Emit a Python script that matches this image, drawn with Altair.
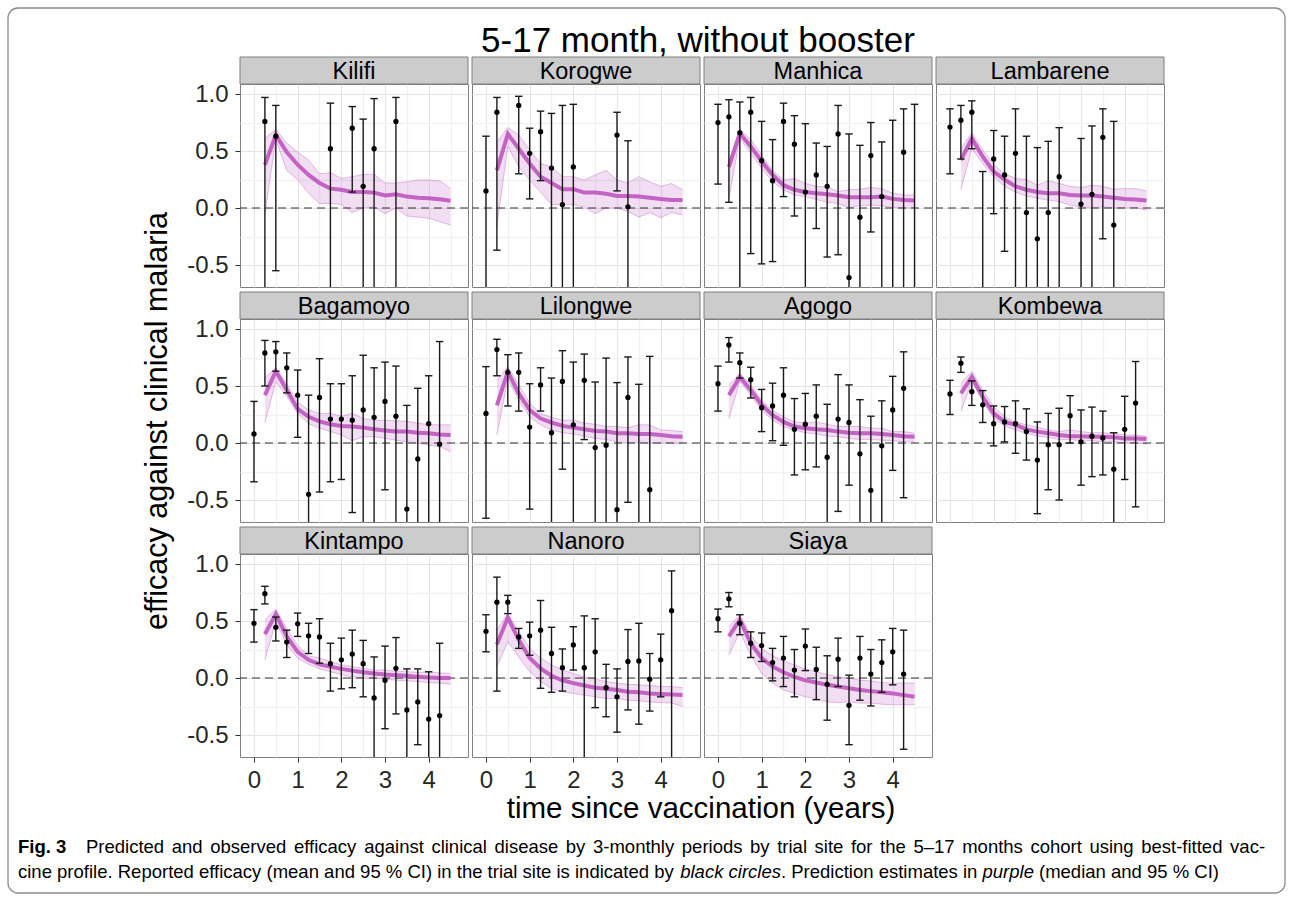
import altair as alt
import pandas as pd

N = None

OBS_TIME = [0.0, 0.25, 0.5, 0.75, 1.0, 1.25, 1.5, 1.75, 2.0, 2.25, 2.5, 2.75,
            3.0, 3.25, 3.5, 3.75, 4.0, 4.25, 4.5]
PRED_TIME = [0.25, 0.5, 0.75, 1.0, 1.25, 1.5, 1.75, 2.0, 2.25, 2.5, 2.75,
             3.0, 3.25, 3.5, 3.75, 4.0, 4.25, 4.5]

SITES = ["Kilifi", "Korogwe", "Manhica", "Lambarene", "Bagamoyo", "Lilongwe",
         "Agogo", "Kombewa", "Kintampo", "Nanoro", "Siaya"]

# observed efficacy (mean, lower, upper) on OBS_TIME; predicted (median, lower, upper) on PRED_TIME
kilifi_mean = [N, 0.76, 0.63, N, N, N, N, 0.52, N, 0.70, 0.19, 0.52, N, 0.76, N, N, N, N, N]
kilifi_lo = [N, -1.0, -0.55, N, N, N, N, -1.0, N, 0.14, -1.0, -1.0, N, -1.0, N, N, N, N, N]
kilifi_hi = [N, 0.97, 0.90, N, N, N, N, 0.92, N, 0.89, 0.78, 0.96, N, 0.97, N, N, N, N, N]
kilifi_med = [0.38, 0.64, 0.49, 0.38, 0.29, 0.22, 0.17, 0.16, 0.14, 0.14, 0.135, 0.11, 0.12, 0.10, 0.09, 0.085, 0.076, 0.064]
kilifi_plo = [-0.05, 0.60, 0.33, 0.25, 0.13, 0.04, 0.04, 0.03, -0.04, 0.0, 0.01, -0.05, 0.0, -0.07, -0.08, -0.09, -0.12, -0.15]
kilifi_phi = [0.61, 0.69, 0.57, 0.49, 0.42, 0.30, 0.31, 0.26, 0.275, 0.295, 0.295, 0.22, 0.22, 0.23, 0.245, 0.245, 0.24, 0.17]

korogwe_mean = [0.15, 0.84, N, 0.90, 0.48, 0.67, 0.35, 0.03, 0.36, N, N, N, 0.64, 0.01, N, N, N, N, N]
korogwe_lo = [-1.0, -0.37, N, 0.30, 0.08, 0.24, -1.0, -1.0, -1.0, N, N, N, 0.15, -1.0, N, N, N, N, N]
korogwe_hi = [0.63, 0.97, N, 0.98, 0.70, 0.85, 0.83, 0.90, 0.91, N, N, N, 0.84, 0.59, N, N, N, N, N]
korogwe_med = [0.33, 0.65, 0.52, 0.39, 0.275, 0.22, 0.165, 0.165, 0.135, 0.135, 0.125, 0.105, 0.105, 0.10, 0.09, 0.08, 0.07, 0.07]
korogwe_plo = [-0.16, 0.54, 0.36, 0.245, 0.14, 0.03, 0.03, 0.03, 0.01, -0.05, 0.0, 0.0, -0.03, -0.08, -0.04, -0.085, -0.04, -0.06]
korogwe_phi = [0.58, 0.705, 0.64, 0.51, 0.39, 0.36, 0.275, 0.275, 0.245, 0.29, 0.33, 0.245, 0.22, 0.275, 0.23, 0.19, 0.215, 0.16]

manhica_mean = [0.75, 0.80, 0.66, 0.84, 0.415, 0.24, 0.76, 0.56, 0.14, 0.29, 0.19, 0.65, -0.61, -0.08, 0.46, 0.10, -0.8, 0.49, -0.8]
manhica_lo = [0.21, 0.05, -1.0, -0.40, -0.49, -0.47, 0.10, -0.07, -1.0, -0.18, -0.43, -0.41, -1.0, -1.0, -0.21, -1.0, -1.0, -1.0, -1.0]
manhica_hi = [0.91, 0.95, 0.93, 0.97, 0.76, 0.60, 0.92, 0.81, 0.74, 0.57, 0.54, 0.90, 0.65, 0.55, 0.75, 0.58, 0.77, 0.87, 0.91]
manhica_med = [0.36, 0.655, 0.54, 0.41, 0.29, 0.20, 0.16, 0.14, 0.13, 0.12, 0.11, 0.095, 0.095, 0.095, 0.10, 0.08, 0.07, 0.065]
manhica_plo = [0.085, 0.61, 0.48, 0.35, 0.23, 0.16, 0.115, 0.10, 0.075, 0.05, 0.04, 0.0, 0.02, 0.025, 0.02, 0.005, 0.0, 0.0]
manhica_phi = [0.41, 0.69, 0.60, 0.465, 0.33, 0.245, 0.26, 0.215, 0.19, 0.185, 0.145, 0.16, 0.165, 0.18, 0.17, 0.13, 0.115, 0.115]

lambarene_mean = [0.71, 0.77, 0.84, -0.8, 0.43, 0.29, 0.48, -0.04, -0.27, -0.04, 0.275, N, 0.035, 0.12, 0.62, -0.15, N, N, N]
lambarene_lo = [0.30, 0.43, 0.52, -1.0, -0.05, -0.38, -1.0, -1.0, -1.0, -1.0, -1.0, N, -1.0, -1.0, -0.27, -1.0, N, N, N]
lambarene_hi = [0.87, 0.90, 0.94, 0.32, 0.68, 0.63, 0.87, 0.63, 0.53, 0.585, 0.705, N, 0.61, 0.72, 0.87, 0.76, N, N, N]
lambarene_med = [0.42, 0.61, 0.45, 0.32, 0.25, 0.19, 0.16, 0.14, 0.13, 0.13, 0.115, 0.11, 0.11, 0.10, 0.09, 0.08, 0.075, 0.065]
lambarene_plo = [0.16, 0.52, 0.39, 0.275, 0.19, 0.14, 0.105, 0.085, 0.07, 0.055, 0.025, 0.01, 0.0, 0.01, 0.0, 0.0, 0.005, -0.02]
lambarene_phi = [0.52, 0.66, 0.51, 0.38, 0.30, 0.26, 0.25, 0.20, 0.24, 0.215, 0.19, 0.18, 0.20, 0.19, 0.165, 0.17, 0.17, 0.15]

bagamoyo_mean = [0.08, 0.79, 0.80, 0.66, 0.42, -0.45, 0.40, 0.21, 0.21, 0.20, 0.29, 0.225, 0.365, 0.235, -0.58, -0.14, 0.17, -0.01, N]
bagamoyo_lo = [-0.34, 0.50, 0.63, 0.44, 0.05, -1.0, -0.43, -0.34, -0.32, -0.61, -1.0, -1.0, -0.41, -1.0, -1.0, -1.0, -1.0, -1.0, N]
bagamoyo_hi = [0.365, 0.90, 0.89, 0.79, 0.64, 0.42, 0.74, 0.52, 0.52, 0.59, 0.77, 0.66, 0.71, 0.675, 0.33, 0.48, 0.59, 0.89, N]
bagamoyo_med = [0.42, 0.63, 0.465, 0.30, 0.23, 0.19, 0.165, 0.15, 0.145, 0.135, 0.12, 0.11, 0.10, 0.10, 0.09, 0.085, 0.075, 0.07]
bagamoyo_plo = [0.18, 0.54, 0.41, 0.26, 0.17, 0.13, 0.10, 0.07, 0.02, 0.055, 0.055, 0.04, 0.025, 0.01, 0.0, -0.02, -0.03, -0.075]
bagamoyo_phi = [0.575, 0.655, 0.52, 0.36, 0.29, 0.26, 0.26, 0.235, 0.26, 0.215, 0.20, 0.20, 0.195, 0.19, 0.175, 0.16, 0.16, 0.16]

lilongwe_mean = [0.26, 0.82, 0.62, 0.62, 0.14, 0.51, 0.09, 0.54, 0.16, 0.55, -0.04, -0.02, -0.585, 0.40, -0.8, -0.41, N, N, N]
lilongwe_lo = [-0.66, 0.59, 0.325, 0.28, -0.58, 0.28, -1.0, -0.23, -1.0, 0.03, -1.0, -1.0, -1.0, -0.52, -1.0, -1.0, N, N, N]
lilongwe_hi = [0.67, 0.91, 0.775, 0.79, 0.52, 0.66, 0.57, 0.81, 0.71, 0.78, 0.535, 0.745, 0.53, 0.755, 0.515, 0.76, N, N, N]
lilongwe_med = [0.33, 0.625, 0.435, 0.29, 0.215, 0.18, 0.15, 0.135, 0.12, 0.105, 0.10, 0.085, 0.085, 0.08, 0.08, 0.07, 0.06, 0.055]
lilongwe_plo = [0.07, 0.56, 0.375, 0.23, 0.16, 0.115, 0.09, 0.08, 0.06, 0.04, 0.03, 0.01, 0.0, 0.01, 0.0, 0.0, 0.0, 0.0]
lilongwe_phi = [0.55, 0.67, 0.51, 0.35, 0.26, 0.225, 0.20, 0.20, 0.175, 0.165, 0.145, 0.145, 0.135, 0.16, 0.16, 0.115, 0.11, 0.10]

agogo_mean = [0.52, 0.86, 0.705, 0.555, 0.31, 0.325, 0.42, 0.12, 0.165, 0.235, -0.125, 0.21, 0.18, -0.095, -0.415, -0.025, 0.29, 0.48, N]
agogo_lo = [0.28, 0.71, 0.57, 0.395, 0.10, 0.02, -0.02, -0.28, -0.235, -0.21, -1.0, -0.60, -0.37, -1.0, -1.0, -1.0, -0.24, -0.48, N]
agogo_hi = [0.675, 0.925, 0.79, 0.665, 0.47, 0.525, 0.66, 0.39, 0.435, 0.51, 0.34, 0.60, 0.51, 0.38, 0.235, 0.37, 0.585, 0.80, N]
agogo_med = [0.42, 0.58, 0.465, 0.335, 0.245, 0.185, 0.145, 0.13, 0.12, 0.115, 0.10, 0.09, 0.085, 0.085, 0.08, 0.07, 0.06, 0.055]
agogo_plo = [0.215, 0.54, 0.42, 0.29, 0.20, 0.145, 0.115, 0.09, 0.08, 0.06, 0.055, 0.04, 0.03, 0.03, 0.025, 0.02, 0.01, 0.01]
agogo_phi = [0.51, 0.61, 0.51, 0.375, 0.285, 0.23, 0.185, 0.175, 0.185, 0.165, 0.145, 0.145, 0.145, 0.13, 0.13, 0.10, 0.10, 0.085]

kombewa_mean = [0.43, 0.70, 0.45, 0.335, 0.17, 0.185, 0.17, 0.10, -0.15, -0.015, -0.015, 0.24, 0.01, 0.06, 0.045, -0.23, 0.12, 0.35, N]
kombewa_lo = [0.25, 0.62, 0.33, 0.18, -0.025, 0.01, -0.09, -0.15, -0.62, -0.41, -0.50, 0.0, -0.37, -0.295, -0.28, -1.0, -0.32, -0.56, N]
kombewa_hi = [0.55, 0.755, 0.545, 0.46, 0.325, 0.32, 0.37, 0.30, 0.185, 0.26, 0.305, 0.415, 0.29, 0.315, 0.28, 0.09, 0.41, 0.715, N]
kombewa_med = [0.435, 0.58, 0.405, 0.26, 0.185, 0.16, 0.12, 0.10, 0.085, 0.07, 0.06, 0.06, 0.055, 0.055, 0.05, 0.04, 0.04, 0.035]
kombewa_plo = [0.275, 0.54, 0.365, 0.215, 0.15, 0.115, 0.085, 0.06, 0.05, 0.03, 0.03, 0.02, 0.02, 0.01, 0.01, 0.0, 0.0, -0.01]
kombewa_phi = [0.52, 0.63, 0.465, 0.32, 0.23, 0.185, 0.16, 0.14, 0.115, 0.10, 0.115, 0.10, 0.09, 0.09, 0.085, 0.07, 0.07, 0.06]

kintampo_mean = [0.48, 0.74, 0.445, 0.315, 0.475, 0.37, 0.36, 0.125, 0.16, 0.21, 0.125, -0.175, -0.02, 0.085, -0.28, -0.21, -0.36, -0.33, N]
kintampo_lo = [0.315, 0.65, 0.325, 0.18, 0.365, 0.215, 0.13, -0.115, -0.095, -0.085, -0.165, -1.0, -0.445, -0.315, -1.0, -0.585, -1.0, -1.0, N]
kintampo_hi = [0.60, 0.805, 0.535, 0.42, 0.57, 0.48, 0.52, 0.305, 0.35, 0.42, 0.33, 0.185, 0.28, 0.355, 0.08, 0.08, 0.055, 0.305, N]
kintampo_med = [0.385, 0.56, 0.365, 0.23, 0.16, 0.12, 0.10, 0.08, 0.065, 0.05, 0.04, 0.03, 0.025, 0.02, 0.01, 0.005, 0.0, 0.0]
kintampo_plo = [0.16, 0.495, 0.29, 0.175, 0.12, 0.08, 0.055, 0.03, 0.01, 0.0, 0.0, -0.01, -0.02, -0.025, -0.03, -0.04, -0.045, -0.055]
kintampo_phi = [0.51, 0.605, 0.435, 0.285, 0.195, 0.175, 0.145, 0.115, 0.10, 0.085, 0.07, 0.07, 0.06, 0.055, 0.05, 0.05, 0.045, 0.04]

nanoro_mean = [0.41, 0.665, 0.665, 0.36, 0.37, 0.42, 0.215, 0.09, 0.29, 0.09, 0.23, -0.085, -0.165, 0.145, 0.15, -0.01, 0.16, 0.59, N]
nanoro_lo = [0.23, -0.115, 0.565, 0.26, 0.20, -0.09, -0.125, -0.115, 0.07, -1.0, -0.26, -0.34, -0.475, -0.28, -0.405, -0.29, -0.165, -1.0, N]
nanoro_hi = [0.555, 0.885, 0.725, 0.435, 0.49, 0.68, 0.445, 0.255, 0.45, 0.545, 0.52, 0.12, 0.08, 0.425, 0.48, 0.215, 0.385, 0.94, N]
nanoro_med = [0.295, 0.53, 0.335, 0.175, 0.085, 0.02, -0.02, -0.045, -0.065, -0.085, -0.095, -0.105, -0.12, -0.125, -0.135, -0.14, -0.145, -0.15]
nanoro_plo = [0.10, 0.32, 0.185, 0.055, -0.03, -0.095, -0.12, -0.135, -0.15, -0.165, -0.18, -0.18, -0.195, -0.20, -0.21, -0.215, -0.22, -0.25]
nanoro_phi = [0.42, 0.565, 0.405, 0.26, 0.175, 0.115, 0.07, 0.04, 0.01, -0.01, -0.03, -0.045, -0.055, -0.06, -0.065, -0.075, -0.075, -0.085]

siaya_mean = [0.52, 0.695, 0.48, 0.305, 0.285, 0.135, 0.175, 0.07, 0.28, 0.075, -0.055, 0.165, -0.24, 0.175, 0.035, 0.135, 0.23, 0.035, N]
siaya_lo = [0.405, 0.625, 0.38, 0.18, 0.145, -0.025, -0.075, -0.165, 0.065, -0.19, -0.37, -0.075, -0.585, -0.195, -0.245, -0.125, -0.06, -0.625, N]
siaya_hi = [0.605, 0.75, 0.555, 0.405, 0.395, 0.26, 0.365, 0.25, 0.43, 0.27, 0.195, 0.35, 0.025, 0.365, 0.25, 0.335, 0.435, 0.42, N]
siaya_med = [0.365, 0.51, 0.305, 0.175, 0.10, 0.05, 0.01, -0.02, -0.04, -0.06, -0.075, -0.09, -0.105, -0.115, -0.125, -0.135, -0.15, -0.165]
siaya_plo = [0.20, 0.405, 0.20, 0.04, -0.045, -0.105, -0.135, -0.165, -0.18, -0.21, -0.215, -0.21, -0.22, -0.22, -0.23, -0.235, -0.235, -0.235]
siaya_phi = [0.45, 0.555, 0.375, 0.26, 0.195, 0.15, 0.115, 0.08, 0.055, 0.03, 0.01, 0.0, -0.02, -0.025, -0.04, -0.045, -0.045, -0.045]

SERIES = {
    "Kilifi": (kilifi_mean, kilifi_lo, kilifi_hi, kilifi_med, kilifi_plo, kilifi_phi),
    "Korogwe": (korogwe_mean, korogwe_lo, korogwe_hi, korogwe_med, korogwe_plo, korogwe_phi),
    "Manhica": (manhica_mean, manhica_lo, manhica_hi, manhica_med, manhica_plo, manhica_phi),
    "Lambarene": (lambarene_mean, lambarene_lo, lambarene_hi, lambarene_med, lambarene_plo, lambarene_phi),
    "Bagamoyo": (bagamoyo_mean, bagamoyo_lo, bagamoyo_hi, bagamoyo_med, bagamoyo_plo, bagamoyo_phi),
    "Lilongwe": (lilongwe_mean, lilongwe_lo, lilongwe_hi, lilongwe_med, lilongwe_plo, lilongwe_phi),
    "Agogo": (agogo_mean, agogo_lo, agogo_hi, agogo_med, agogo_plo, agogo_phi),
    "Kombewa": (kombewa_mean, kombewa_lo, kombewa_hi, kombewa_med, kombewa_plo, kombewa_phi),
    "Kintampo": (kintampo_mean, kintampo_lo, kintampo_hi, kintampo_med, kintampo_plo, kintampo_phi),
    "Nanoro": (nanoro_mean, nanoro_lo, nanoro_hi, nanoro_med, nanoro_plo, nanoro_phi),
    "Siaya": (siaya_mean, siaya_lo, siaya_hi, siaya_med, siaya_plo, siaya_phi),
}

TITLE = "5-17 month, without booster"
Y_TITLE = "efficacy against clinical malaria"
X_TITLE = "time since vaccination (years)"
CAP_FIG = "Fig. 3"
CAP_LINE1 = ("Predicted and observed efficacy against clinical disease by 3-monthly periods by trial "
             "site for the 5\u201317 months cohort using best-fitted vac-")
CAP_LINE2 = ["cine profile. Reported efficacy (mean and 95 % CI) in the trial site is indicated by",
             "black circles", ". Prediction estimates in", "purple", "(median and 95 % CI)"]

# ---------------- layout / style ----------------
W, H = 228, 203
STRIP_H = 27
XDOM = [-0.32, 4.9]
YDOM = [-0.693, 1.088]
XVALS = [0, 0.5, 1, 1.5, 2, 2.5, 3, 3.5, 4, 4.5]
YVALS = [-0.5, -0.25, 0, 0.25, 0.5, 0.75, 1.0]
FONT = "Liberation Sans"
TICK_FS = 24
STRIP_FS = 23.5
XMAJ = "datum.value % 1 === 0"
YMAJ = "abs(datum.value * 2 - round(datum.value * 2)) < 0.001"
PURPLE = "#C05CC0"
LABEL_COLOR = "#262626"
CAP_FS = 18.5

# Helvetica/Liberation Sans advance widths (per 1000 em) used to justify caption line 1
HELV = {" ": 278, "a": 556, "b": 556, "c": 500, "d": 556, "e": 556, "f": 278, "g": 556,
        "h": 556, "i": 222, "j": 222, "k": 500, "l": 222, "m": 833, "n": 556, "o": 556,
        "p": 556, "q": 556, "r": 333, "s": 500, "t": 278, "u": 556, "v": 500, "w": 722,
        "x": 500, "y": 500, "z": 500, "P": 667, "-": 333, "\u2013": 556, ".": 278}


def text_width(s, size):
    return sum(HELV.get(ch, 556) for ch in s) * size / 1000.0


def grid_props(test):
    return dict(
        grid=True,
        gridColor={"condition": {"test": test, "value": "#E4E4E4"}, "value": "#F1F1F1"},
        gridWidth={"condition": {"test": test, "value": 1.0}, "value": 1.3},
        domain=False,
        labelOverlap=False,
        labelFlush=False,
    )


def x_axis(show, title=False):
    kw = grid_props(XMAJ)
    kw["values"] = XVALS
    if show:
        kw.update(labels=True, ticks=True,
                  labelExpr=f"{XMAJ} ? format(datum.value, 'd') : ''",
                  tickOpacity={"condition": {"test": XMAJ, "value": 1}, "value": 0},
                  tickColor="#333333", tickSize=5, tickWidth=1,
                  labelFont=FONT, labelFontSize=TICK_FS, labelColor=LABEL_COLOR, labelPadding=6)
    else:
        kw.update(labels=False, ticks=False)
    if title:
        kw.update(title=X_TITLE, titleFont=FONT, titleFontSize=29.5, titleFontWeight="normal",
                  titleColor="black", titleX=228.5, titleAlign="center", titlePadding=2)
    else:
        kw["title"] = None
    return alt.Axis(**kw)


def y_axis(show, title=False):
    kw = grid_props(YMAJ)
    kw["values"] = YVALS
    if show:
        kw.update(labels=True, ticks=True,
                  labelExpr=f"{YMAJ} ? replace(format(datum.value, '.1f'), '\u2212', '-') : ''",
                  tickOpacity={"condition": {"test": YMAJ, "value": 1}, "value": 0},
                  tickColor="#333333", tickSize=5, tickWidth=1,
                  labelFont=FONT, labelFontSize=TICK_FS, labelColor=LABEL_COLOR, labelPadding=7)
    else:
        kw.update(labels=False, ticks=False)
    if title:
        kw.update(title=Y_TITLE, titleFont=FONT, titleFontSize=30.5, titleFontWeight="normal",
                  titleColor="black", titlePadding=14)
    else:
        kw["title"] = None
    return alt.Axis(**kw)


def one_row(**kw):
    return pd.DataFrame({k: [v] for k, v in kw.items()})


def ann_text(txt, x, y, size, **kw):
    return alt.Chart(one_row(label=txt)).mark_text(
        font=FONT, fontSize=size, baseline="alphabetic", color="black", **kw
    ).encode(x=alt.value(x), y=alt.value(y), text="label:N")


def annotations():
    border = alt.Chart(one_row(k=1)).mark_rect(
        fill="white", fillOpacity=0, stroke="#8A8A8A", strokeWidth=1.3, cornerRadius=10
    ).encode(x=alt.value(-232), x2=alt.value(1045), y=alt.value(-76), y2=alt.value(809))
    title = ann_text(TITLE, 458, -32, 35, align="center")
    out = [border, title, ann_text(CAP_FIG, -222, 769, CAP_FS, align="left", fontWeight="bold")]
    # caption line 1: justified between x=-154 and x=1025 (relative to first panel)
    words = CAP_LINE1.split(" ")
    x0, x1 = -154.0, 1025.0
    total = sum(text_width(w, CAP_FS) for w in words)
    gap = (x1 - x0 - total) / (len(words) - 1)
    x = x0
    for w in words:
        out.append(ann_text(w, round(x, 1), 769, CAP_FS, align="left"))
        x += text_width(w, CAP_FS) + gap
    # caption line 2 with italic parts
    styles = ["normal", "italic", "normal", "italic", "normal"]
    lead = [0, 0, 0, 0, 1]
    x = -222.0
    for seg, st, ld in zip(CAP_LINE2, styles, lead):
        x += ld * text_width(" ", CAP_FS)
        out.append(ann_text(seg, round(x, 1), 794, CAP_FS, align="left", fontStyle=st))
        x += text_width(seg, CAP_FS) + (text_width(" ", CAP_FS) if seg.endswith("by") or seg.endswith("in") else 0)
    return out


def make_cell(idx, site):
    col = idx % 4
    mean, lo, hi, med, plo, phi = SERIES[site]
    obs = pd.DataFrame({"t": OBS_TIME, "mean": mean, "lo": lo, "hi": hi}).dropna()
    pred = pd.DataFrame({"t": PRED_TIME, "med": med, "plo": plo, "phi": phi})

    show_x = site in ("Kintampo", "Nanoro", "Siaya")
    xax = x_axis(show_x, title=(site == "Nanoro"))
    yax = y_axis(col == 0, title=(site == "Bagamoyo"))
    xs = alt.Scale(domain=XDOM, nice=False, zero=False)
    ys = alt.Scale(domain=YDOM, nice=False, zero=False)

    def X(f):
        return alt.X(f"{f}:Q", scale=xs, axis=xax)

    def Y(f):
        return alt.Y(f"{f}:Q", scale=ys, axis=yax)

    strip = alt.Chart(one_row(site=site)).mark_rect(
        fill="#CCCCCC", stroke="#7F7F7F", strokeWidth=1
    ).encode(x=alt.value(0), x2=alt.value(W), y=alt.value(-STRIP_H), y2=alt.value(0))
    strip_txt = alt.Chart(one_row(site=site)).mark_text(
        font=FONT, fontSize=STRIP_FS, color="black", baseline="middle", align="center"
    ).encode(x=alt.value(W / 2), y=alt.value(-STRIP_H / 2 + 1), text="site:N")

    band = alt.Chart(pred).mark_area(color=PURPLE, fillOpacity=0.2, clip=True).encode(
        x=X("t"), y=Y("plo"), y2="phi:Q")
    band_lo = alt.Chart(pred).mark_line(color=PURPLE, strokeWidth=1, opacity=0.4, clip=True).encode(
        x=X("t"), y=Y("plo"))
    band_hi = alt.Chart(pred).mark_line(color=PURPLE, strokeWidth=1, opacity=0.4, clip=True).encode(
        x=X("t"), y=Y("phi"))
    zero = alt.Chart(one_row(zero=0.0)).mark_rule(
        color="#333333", strokeDash=[8, 5], strokeWidth=1.1).encode(y=Y("zero"))
    line = alt.Chart(pred).mark_line(color=PURPLE, strokeWidth=4, opacity=0.95, clip=True).encode(
        x=X("t"), y=Y("med"))
    err = alt.Chart(obs).mark_rule(color="#1A1A1A", strokeWidth=1.4, clip=True).encode(
        x=X("t"), y=Y("lo"), y2="hi:Q")
    caps = alt.Chart(obs).transform_calculate(
        xl="datum.t - 0.085", xr="datum.t + 0.085")
    cap_hi = caps.mark_rule(color="#1A1A1A", strokeWidth=1.4, clip=True).encode(
        x=X("xl"), x2="xr:Q", y=Y("hi"))
    cap_lo = caps.mark_rule(color="#1A1A1A", strokeWidth=1.4, clip=True).encode(
        x=X("xl"), x2="xr:Q", y=Y("lo"))
    pts = alt.Chart(obs).mark_circle(color="black", size=28, opacity=1, clip=True).encode(
        x=X("t"), y=Y("mean"))

    layers = [strip, strip_txt, band, band_lo, band_hi, zero, line, err, cap_hi, cap_lo, pts]
    if idx == 0:
        layers += annotations()
    return alt.layer(*layers).properties(width=W, height=H)


cells = [make_cell(i, s) for i, s in enumerate(SITES)]

chart = alt.concat(
    *cells, columns=4, spacing={"row": 32, "column": 4}
).properties(
    bounds="flush",
    padding={"left": 6, "top": 6, "right": 2, "bottom": 2},
    background="white",
).configure(font=FONT).configure_view(stroke="#7F7F7F", strokeWidth=1, fill="white")

chart.save("out.html", embed_options={"renderer": "svg", "actions": False})
